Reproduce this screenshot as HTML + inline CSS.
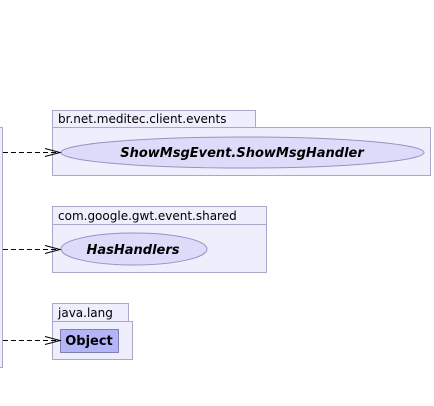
<!DOCTYPE html>
<html><head><style>body{margin:0;background:#fff}svg{display:block}</style></head><body>
<svg width="434" height="406" xmlns="http://www.w3.org/2000/svg" font-family="'DejaVu Sans','Liberation Sans',sans-serif">
<rect x="-5" y="127.5" width="7.5" height="240" fill="#eeeefc" stroke="#a8a8c8"/>
<g fill="#eeeefc" stroke="#a8a8c8">
<rect x="52.5" y="110.5" width="203" height="17"/>
<rect x="52.5" y="127.5" width="378" height="48"/>
<rect x="52.5" y="206.5" width="214" height="18"/>
<rect x="52.5" y="224.5" width="214" height="48"/>
<rect x="52.5" y="303.5" width="76" height="18"/>
<rect x="52.5" y="321.5" width="80" height="38"/>
</g>
<g fill="#000" font-size="12">
<text x="58" y="123">br.net.meditec.client.events</text>
<text x="58" y="220">com.google.gwt.event.shared</text>
<text x="58" y="317">java.lang</text>
</g>
<ellipse cx="242.5" cy="152.5" rx="181.5" ry="15.5" fill="#dcdcfa" stroke="#9494c0"/>
<ellipse cx="134" cy="249" rx="73" ry="16" fill="#dcdcfa" stroke="#9494c0"/>
<rect x="60.5" y="329.5" width="58" height="23" fill="#b4b4f8" stroke="#8080b0"/>
<g font-weight="bold" font-style="italic" font-size="13" text-anchor="middle">
<text x="242" y="157">ShowMsgEvent.ShowMsgHandler</text>
<text x="133" y="254">HasHandlers</text>
</g>
<text x="89" y="345" font-weight="bold" font-size="13" text-anchor="middle">Object</text>
<g stroke="#000" fill="none">
<path d="M3 152.5H60" stroke-dasharray="5,3"/>
<path d="M45 148.5L60 152.5L45 156.5"/>
<path d="M3 249.5H60" stroke-dasharray="5,3"/>
<path d="M45 245.5L60 249.5L45 253.5"/>
<path d="M3 340.5H60" stroke-dasharray="5,3"/>
<path d="M45 336.5L60 340.5L45 344.5"/>
</g>
</svg>
</body></html>
